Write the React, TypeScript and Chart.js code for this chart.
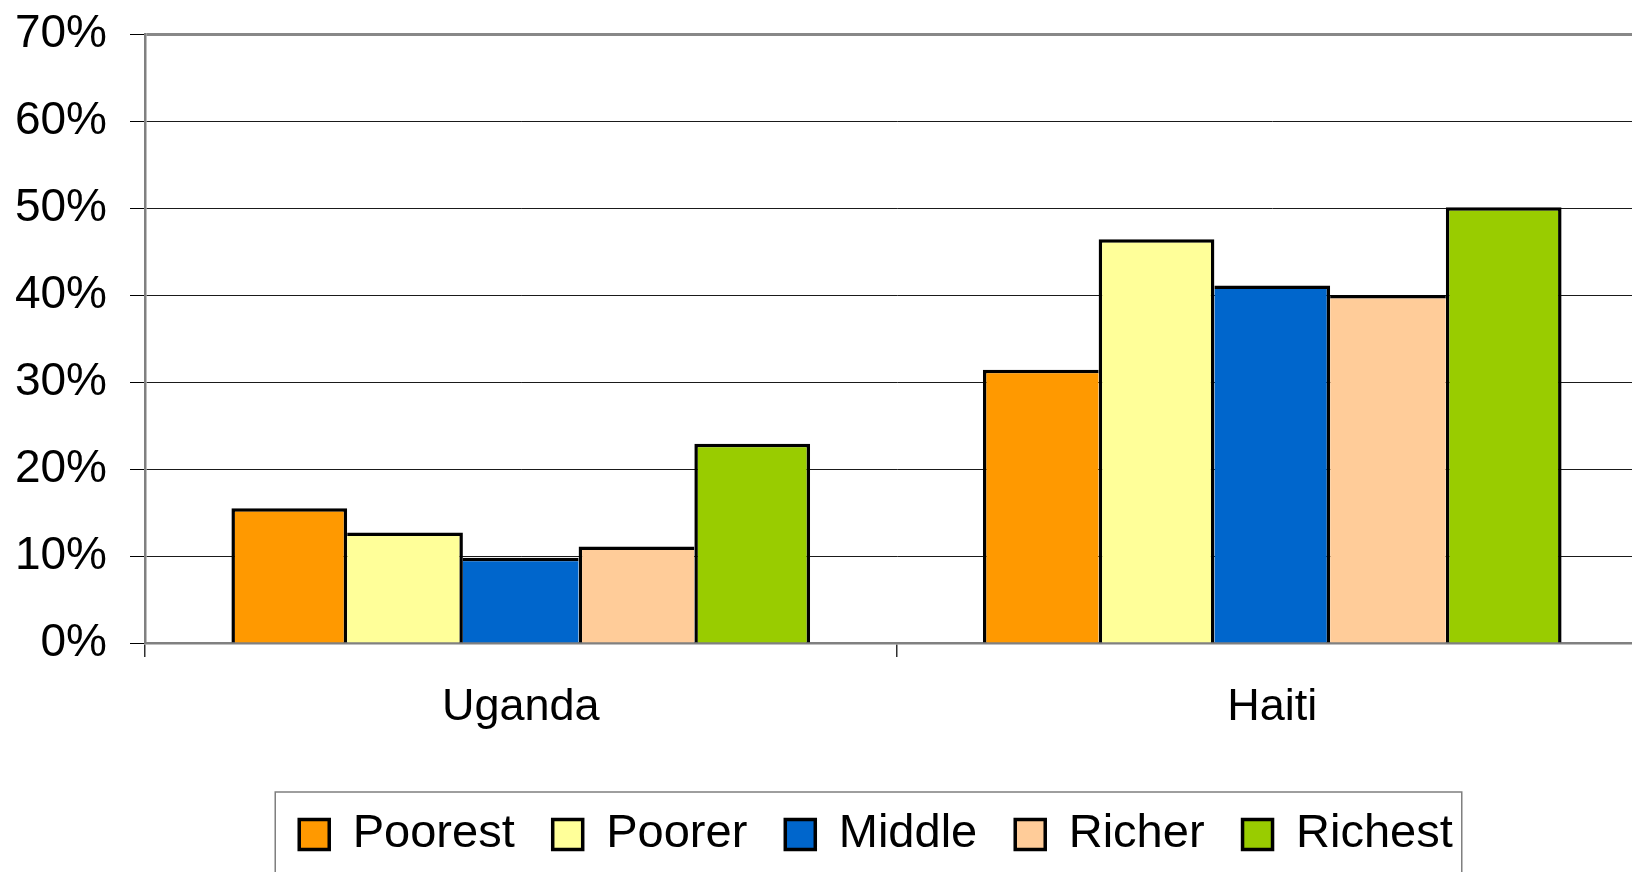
import React, { useEffect, useRef } from "react";
import { Chart, registerables } from "chart.js";

Chart.register(...registerables);

const categories = ["Uganda", "Haiti"];
const seriesNames = ["Poorest", "Poorer", "Middle", "Richer", "Richest"];
const poorest = [15.5, 31.4];
const poorer = [12.7, 46.4];
const middle = [9.8, 41.1];
const richer = [11.1, 40.0];
const richest = [22.9, 50.1];
const yTicks = [0, 10, 20, 30, 40, 50, 60, 70];

const seriesValues = [poorest, poorer, middle, richer, richest];
const seriesColors = ["#FF9900", "#FFFF99", "#0066CC", "#FFCC99", "#99CC00"];

const W = 1650;
const H = 906;
const BW = 3.5;
const LEGEND_SHIFT = 52;

const legendTweaks = {
  id: "legendTweaks",
  afterUpdate(chart: any) {
    const lg = chart.legend;
    if (!lg) return;
    lg.left += LEGEND_SHIFT;
    lg.right += LEGEND_SHIFT;
    (lg.legendHitBoxes || []).forEach((h: any) => {
      h.left += LEGEND_SHIFT;
    });
  },
  afterDraw(chart: any) {
    const lg = chart.legend;
    if (!lg || !lg.legendHitBoxes || !lg.legendHitBoxes.length) return;
    const hb = lg.legendHitBoxes;
    const first = hb[0];
    const last = hb[hb.length - 1];
    const left = first.left - 24;
    const right = last.left + last.width + 9;
    const top = first.top - 19;
    const ctx = chart.ctx;
    ctx.save();
    ctx.strokeStyle = "#7f7f7f";
    ctx.lineWidth = 1.5;
    ctx.strokeRect(left, top, right - left, 200);
    ctx.restore();
  },
};

export default function App() {
  const ref = useRef<HTMLCanvasElement | null>(null);

  useEffect(() => {
    if (!ref.current) return;
    Chart.defaults.font.family = "'Liberation Sans', Arial, sans-serif";
    Chart.defaults.color = "#000";

    const datasets = seriesNames.map((name, i) => ({
      label: name,
      data: seriesValues[i],
      backgroundColor: seriesColors[i],
      borderColor: "#000",
      borderWidth: (ctx: any) => {
        const j = ctx.dataIndex;
        const v = seriesValues[i][j];
        const left = i === 0 ? BW : v >= seriesValues[i - 1][j] ? BW : 0;
        const right =
          i === seriesValues.length - 1 ? BW : v > seriesValues[i + 1][j] ? BW : 0;
        return { top: BW, left, right, bottom: 0 };
      },
      borderSkipped: "bottom",
      categoryPercentage: 0.77,
      barPercentage: 1,
      inflateAmount: 0,
    }));

    const chart = new Chart(ref.current, {
      type: "bar",
      data: { labels: categories, datasets: datasets as any },
      options: {
        animation: false,
        responsive: false,
        layout: { padding: { left: 0, right: 2, top: 34, bottom: 38 } },
        plugins: {
          tooltip: { enabled: false },
          legend: {
            position: "bottom",
            labels: {
              font: { size: 47 },
              boxWidth: 30,
              boxHeight: 30,
              padding: 38,
              color: "#000",
              generateLabels: () =>
                seriesNames.map((n, i) => ({
                  text: n,
                  fillStyle: seriesColors[i],
                  strokeStyle: "#000",
                  lineWidth: 3.5,
                  hidden: false,
                  datasetIndex: i,
                })),
            },
          },
        },
        scales: {
          x: {
            afterFit: (s: any) => {
              s.height = 130;
            },
            grid: {
              offset: true,
              drawOnChartArea: false,
              drawTicks: true,
              tickLength: 14,
              color: "#303030",
              lineWidth: 1.5,
            },
            border: { display: true, color: "#808080", width: 2.5 },
            ticks: { font: { size: 45 }, padding: 24, color: "#000" },
          },
          y: {
            min: 0,
            max: 70,
            afterFit: (s: any) => {
              s.width = 145;
              s.paddingTop = 0;
              s.paddingBottom = 0;
            },
            afterBuildTicks: (s: any) => {
              s.ticks = yTicks.map((v) => ({ value: v }));
            },
            grid: {
              color: (c: any) => (c.tick && c.tick.value === 70 ? "#888888" : "#1a1a1a"),
              lineWidth: (c: any) => (c.tick && c.tick.value === 70 ? 3 : 1),
              tickColor: "#000",
              tickWidth: 1,
              tickLength: 15,
            },
            border: { display: true, color: "#808080", width: 2.5 },
            ticks: {
              font: { size: 46 },
              padding: 23,
              color: "#000",
              callback: (v: any) => v + "%",
            },
          },
        },
      },
      plugins: [legendTweaks],
    });
    return () => chart.destroy();
  }, []);

  return (
    <div
      style={{
        position: "fixed",
        left: 0,
        top: 0,
        width: 1632,
        height: 872,
        overflow: "hidden",
        background: "#fff",
      }}
    >
      <canvas ref={ref} width={W} height={H} style={{ width: W, height: H, display: "block" }} />
    </div>
  );
}
